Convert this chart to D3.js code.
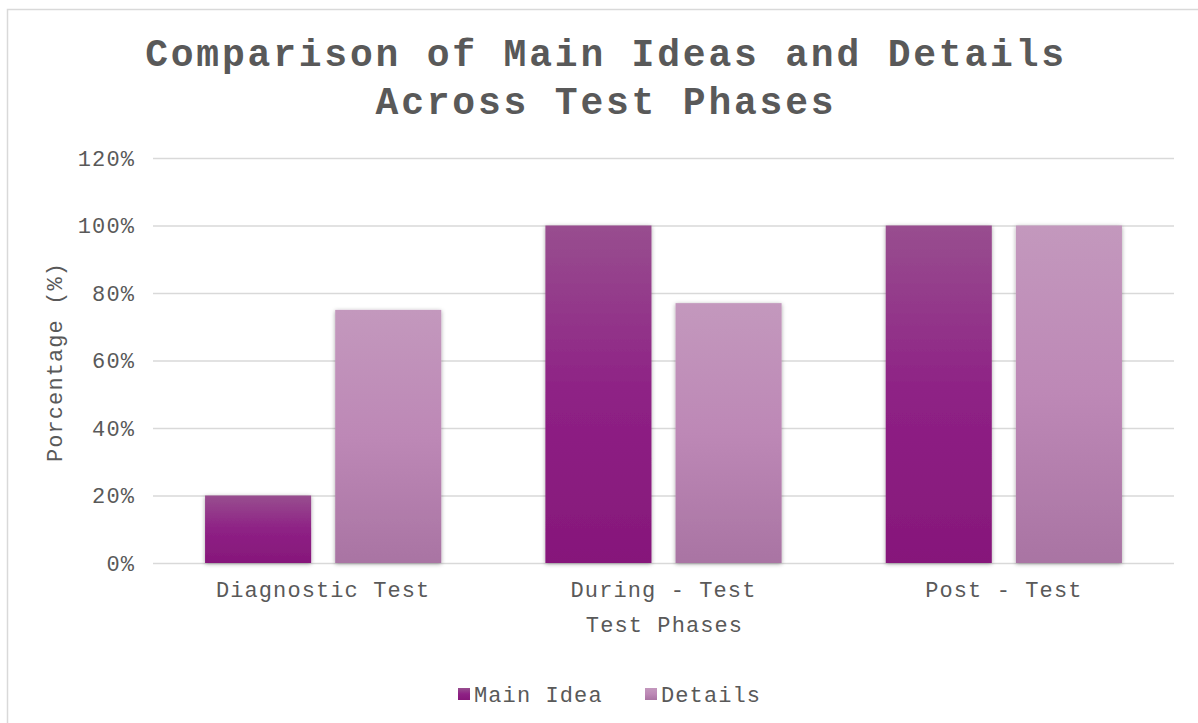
<!DOCTYPE html>
<html lang="en">
<head>
<meta charset="UTF-8">
<title>Main Ideas and Details</title>
<script src="https://cdn.jsdelivr.net/npm/d3@7"></script>
<style>
  body { margin: 0; background: #fff; }
  text { font-family: "Liberation Mono", "Courier New", monospace; fill: #595959; }
  .lbl { font-size: 22px; letter-spacing: 1.1px; }
  .grid line { stroke: #d9d9d9; stroke-width: 1.3px; }
  .grid path { display: none; }
</style>
</head>
<body>
<script>
  // data
  var phases = ["Diagnostic Test", "During - Test", "Post - Test"];
  var seriesNames = ["Main Idea", "Details"];
  var mainIdea = [20, 100, 100];
  var details = [75, 77, 100];
  var yTicks = [0, 20, 40, 60, 80, 100, 120];

  var width = 1198, height = 723;
  var margin = {left: 153, right: 24, top: 158, bottom: 160};

  var svg = d3.select("body").append("svg")
    .attr("width", width).attr("height", height);

  var defs = svg.append("defs");
  function grad(id, c1, c2, c3) {
    var g = defs.append("linearGradient").attr("id", id)
      .attr("x1", 0).attr("y1", 0).attr("x2", 0).attr("y2", 1);
    g.append("stop").attr("offset", "0%").attr("stop-color", c1);
    g.append("stop").attr("offset", "50%").attr("stop-color", c2);
    g.append("stop").attr("offset", "100%").attr("stop-color", c3);
  }
  grad("g0", "#984e8f", "#8e2185", "#86177a");
  grad("g1", "#c398bd", "#bd88b6", "#a974a3");

  var sh = defs.append("filter").attr("id", "shadow")
    .attr("x", "-10%").attr("y", "-10%").attr("width", "120%").attr("height", "120%");
  sh.append("feDropShadow").attr("dx", 0).attr("dy", 1).attr("stdDeviation", 2)
    .attr("flood-color", "#000").attr("flood-opacity", 0.35);

  // outer chart border
  svg.append("rect")
    .attr("x", 7.5).attr("y", 9.5).attr("width", 1250).attr("height", 800)
    .attr("fill", "#fff").attr("stroke", "#d9d9d9").attr("stroke-width", 1.5);

  var x0 = d3.scaleBand().domain(phases)
    .range([margin.left, width - margin.right]);
  var x1 = d3.scaleBand().domain(seriesNames)
    .range([0, x0.bandwidth()]).paddingInner(0.185).paddingOuter(0.4);
  var y = d3.scaleLinear().domain([0, 120]).range([height - margin.bottom, margin.top]);

  // grid
  svg.append("g").attr("class", "grid")
    .attr("transform", "translate(" + margin.left + ",0)")
    .call(d3.axisLeft(y).tickValues(yTicks).tickSize(-(width - margin.left - margin.right)).tickFormat(""));

  // y tick labels
  svg.append("g").selectAll("text").data(yTicks).enter().append("text")
    .attr("class", "lbl")
    .attr("x", margin.left - 18).attr("y", function(d) { return y(d); })
    .attr("dy", "0.35em").attr("text-anchor", "end")
    .text(function(d) { return d + "%"; });

  // bars
  var rows = phases.map(function(p, i) {
    return [{s: 0, name: seriesNames[0], phase: p, v: mainIdea[i]},
            {s: 1, name: seriesNames[1], phase: p, v: details[i]}];
  });
  svg.append("g").selectAll("g").data(rows).enter().append("g")
    .attr("transform", function(d, i) { return "translate(" + x0(phases[i]) + ",0)"; })
    .selectAll("rect").data(function(d) { return d; }).enter().append("rect")
    .attr("x", function(d) { return x1(d.name); })
    .attr("width", x1.bandwidth())
    .attr("y", function(d) { return y(d.v); })
    .attr("height", function(d) { return y(0) - y(d.v); })
    .attr("fill", function(d) { return "url(#g" + d.s + ")"; })
    .attr("filter", "url(#shadow)");

  // x labels
  svg.append("g").selectAll("text").data(phases).enter().append("text")
    .attr("class", "lbl")
    .attr("x", function(d) { return x0(d) + x0.bandwidth() / 2; })
    .attr("y", 597).attr("text-anchor", "middle")
    .text(function(d) { return d; });

  // axis titles
  svg.append("text").attr("class", "lbl")
    .attr("x", (margin.left + width - margin.right) / 2 + 1).attr("y", 632)
    .attr("text-anchor", "middle").text("Test Phases");
  svg.append("text").attr("class", "lbl")
    .attr("transform", "translate(62,362) rotate(-90)")
    .attr("text-anchor", "middle").text("Porcentage (%)");

  // title
  var title = svg.append("text").attr("text-anchor", "middle")
    .style("font-size", "38px").style("font-weight", "bold").style("letter-spacing", "2.8px");
  title.append("tspan").attr("x", 606).attr("y", 66).text("Comparison of Main Ideas and Details");
  title.append("tspan").attr("x", 606).attr("y", 114).text("Across Test Phases");

  // legend
  var leg = svg.append("g").selectAll("g").data(seriesNames).enter().append("g")
    .attr("transform", function(d, i) { return "translate(" + (458 + i * 187) + ",688)"; });
  leg.append("rect").attr("width", 12).attr("height", 12)
    .attr("fill", function(d, i) { return "url(#g" + i + ")"; });
  leg.append("text").attr("class", "lbl").attr("x", 16).attr("y", 6).attr("dy", "0.35em")
    .text(function(d) { return d; });
</script>
</body>
</html>
